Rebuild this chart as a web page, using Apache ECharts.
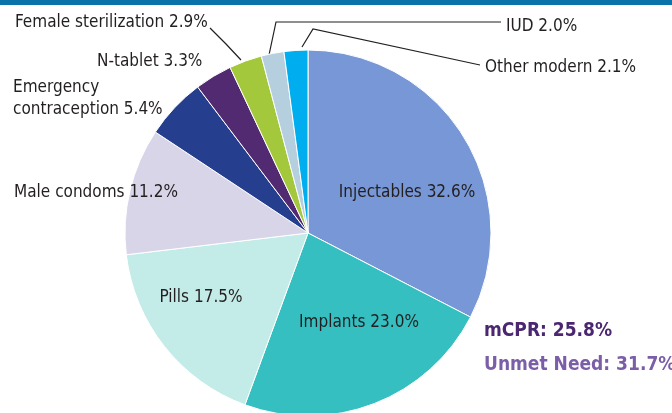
<!DOCTYPE html>
<html>
<head>
<meta charset="utf-8">
<script src="https://cdn.jsdelivr.net/npm/echarts@6/dist/echarts.min.js"></script>
<style>
  html, body { margin: 0; padding: 0; background: #fff; }
  #chart { width: 672px; height: 413px; }
</style>
</head>
<body>
<div id="chart"></div>
<script>
// method mix, clockwise from 12 o'clock
const categories = ['Injectables', 'Implants', 'Pills', 'Male condoms',
  'Emergency\ncontraception', 'N-tablet', 'Female sterilization', 'IUD', 'Other modern'];
const shares = [32.6, 23.0, 17.5, 11.2, 5.4, 3.3, 2.9, 2.0, 2.1];
const mcpr = 25.8;
const unmetNeed = 31.7;

const sliceColors = ['#7897d6', '#35bfc1', '#c3ebe7', '#d9d5e9', '#253f8e',
  '#512a72', '#a3c83b', '#b6cfdf', '#00aeef'];
// label anchor: x, y, align
const labelSpots = [
  [407, 193, 'center'], [359, 323, 'center'], [201, 298, 'center'], [96, 193, 'center'],
  [13, 99, 'left'], [97, 62, 'left'], [15, 23, 'left'], [506, 27, 'left'], [485, 68, 'left']
];
const leaders = {
  6: [[241, 60], [226, 44], [210, 28]],
  7: [[269, 55], [276, 22], [501, 22]],
  8: [[302, 47], [313, 29], [480, 65]]
};

const FONT = '"DejaVu Sans Condensed", "Liberation Sans Narrow", sans-serif';

const myChart = echarts.init(document.getElementById('chart'));
const option = {
  animation: false,
  graphic: [
    { type: 'rect', shape: { x: 0, y: 0, width: 672, height: 5 }, style: { fill: '#0a72a8' } },
    { type: 'text', left: 484, top: 322,
      style: { text: 'mCPR: ' + mcpr.toFixed(1) + '%', fill: '#4a2770', font: 'bold 19px ' + FONT } },
    { type: 'text', left: 484, top: 356,
      style: { text: 'Unmet Need: ' + unmetNeed.toFixed(1) + '%', fill: '#7b5ea8', font: 'bold 19px ' + FONT } }
  ],
  series: [{
    type: 'pie',
    center: [308, 233],
    radius: 183,
    startAngle: 90,
    clockwise: true,
    itemStyle: { borderColor: '#fff', borderWidth: 1 },
    label: {
      show: true,
      position: 'outside',
      overflow: 'none',
      color: '#231f20',
      fontFamily: FONT,
      fontSize: 17,
      lineHeight: 22,
      formatter: p => p.name + ' ' + p.value.toFixed(1) + '%'
    },
    labelLine: { show: true, lineStyle: { color: '#231f20', width: 1.2 } },
    emphasis: { disabled: true },
    labelLayout: p => {
      const s = labelSpots[p.dataIndex];
      const out = { x: s[0], y: s[1], align: s[2], verticalAlign: 'middle' };
      if (leaders[p.dataIndex]) out.labelLinePoints = leaders[p.dataIndex];
      return out;
    },
    data: categories.map((name, i) => ({
      name: name,
      value: shares[i],
      itemStyle: { color: sliceColors[i] },
      labelLine: { show: !!leaders[i] }
    }))
  }]
};
myChart.setOption(option);
</script>
</body>
</html>
